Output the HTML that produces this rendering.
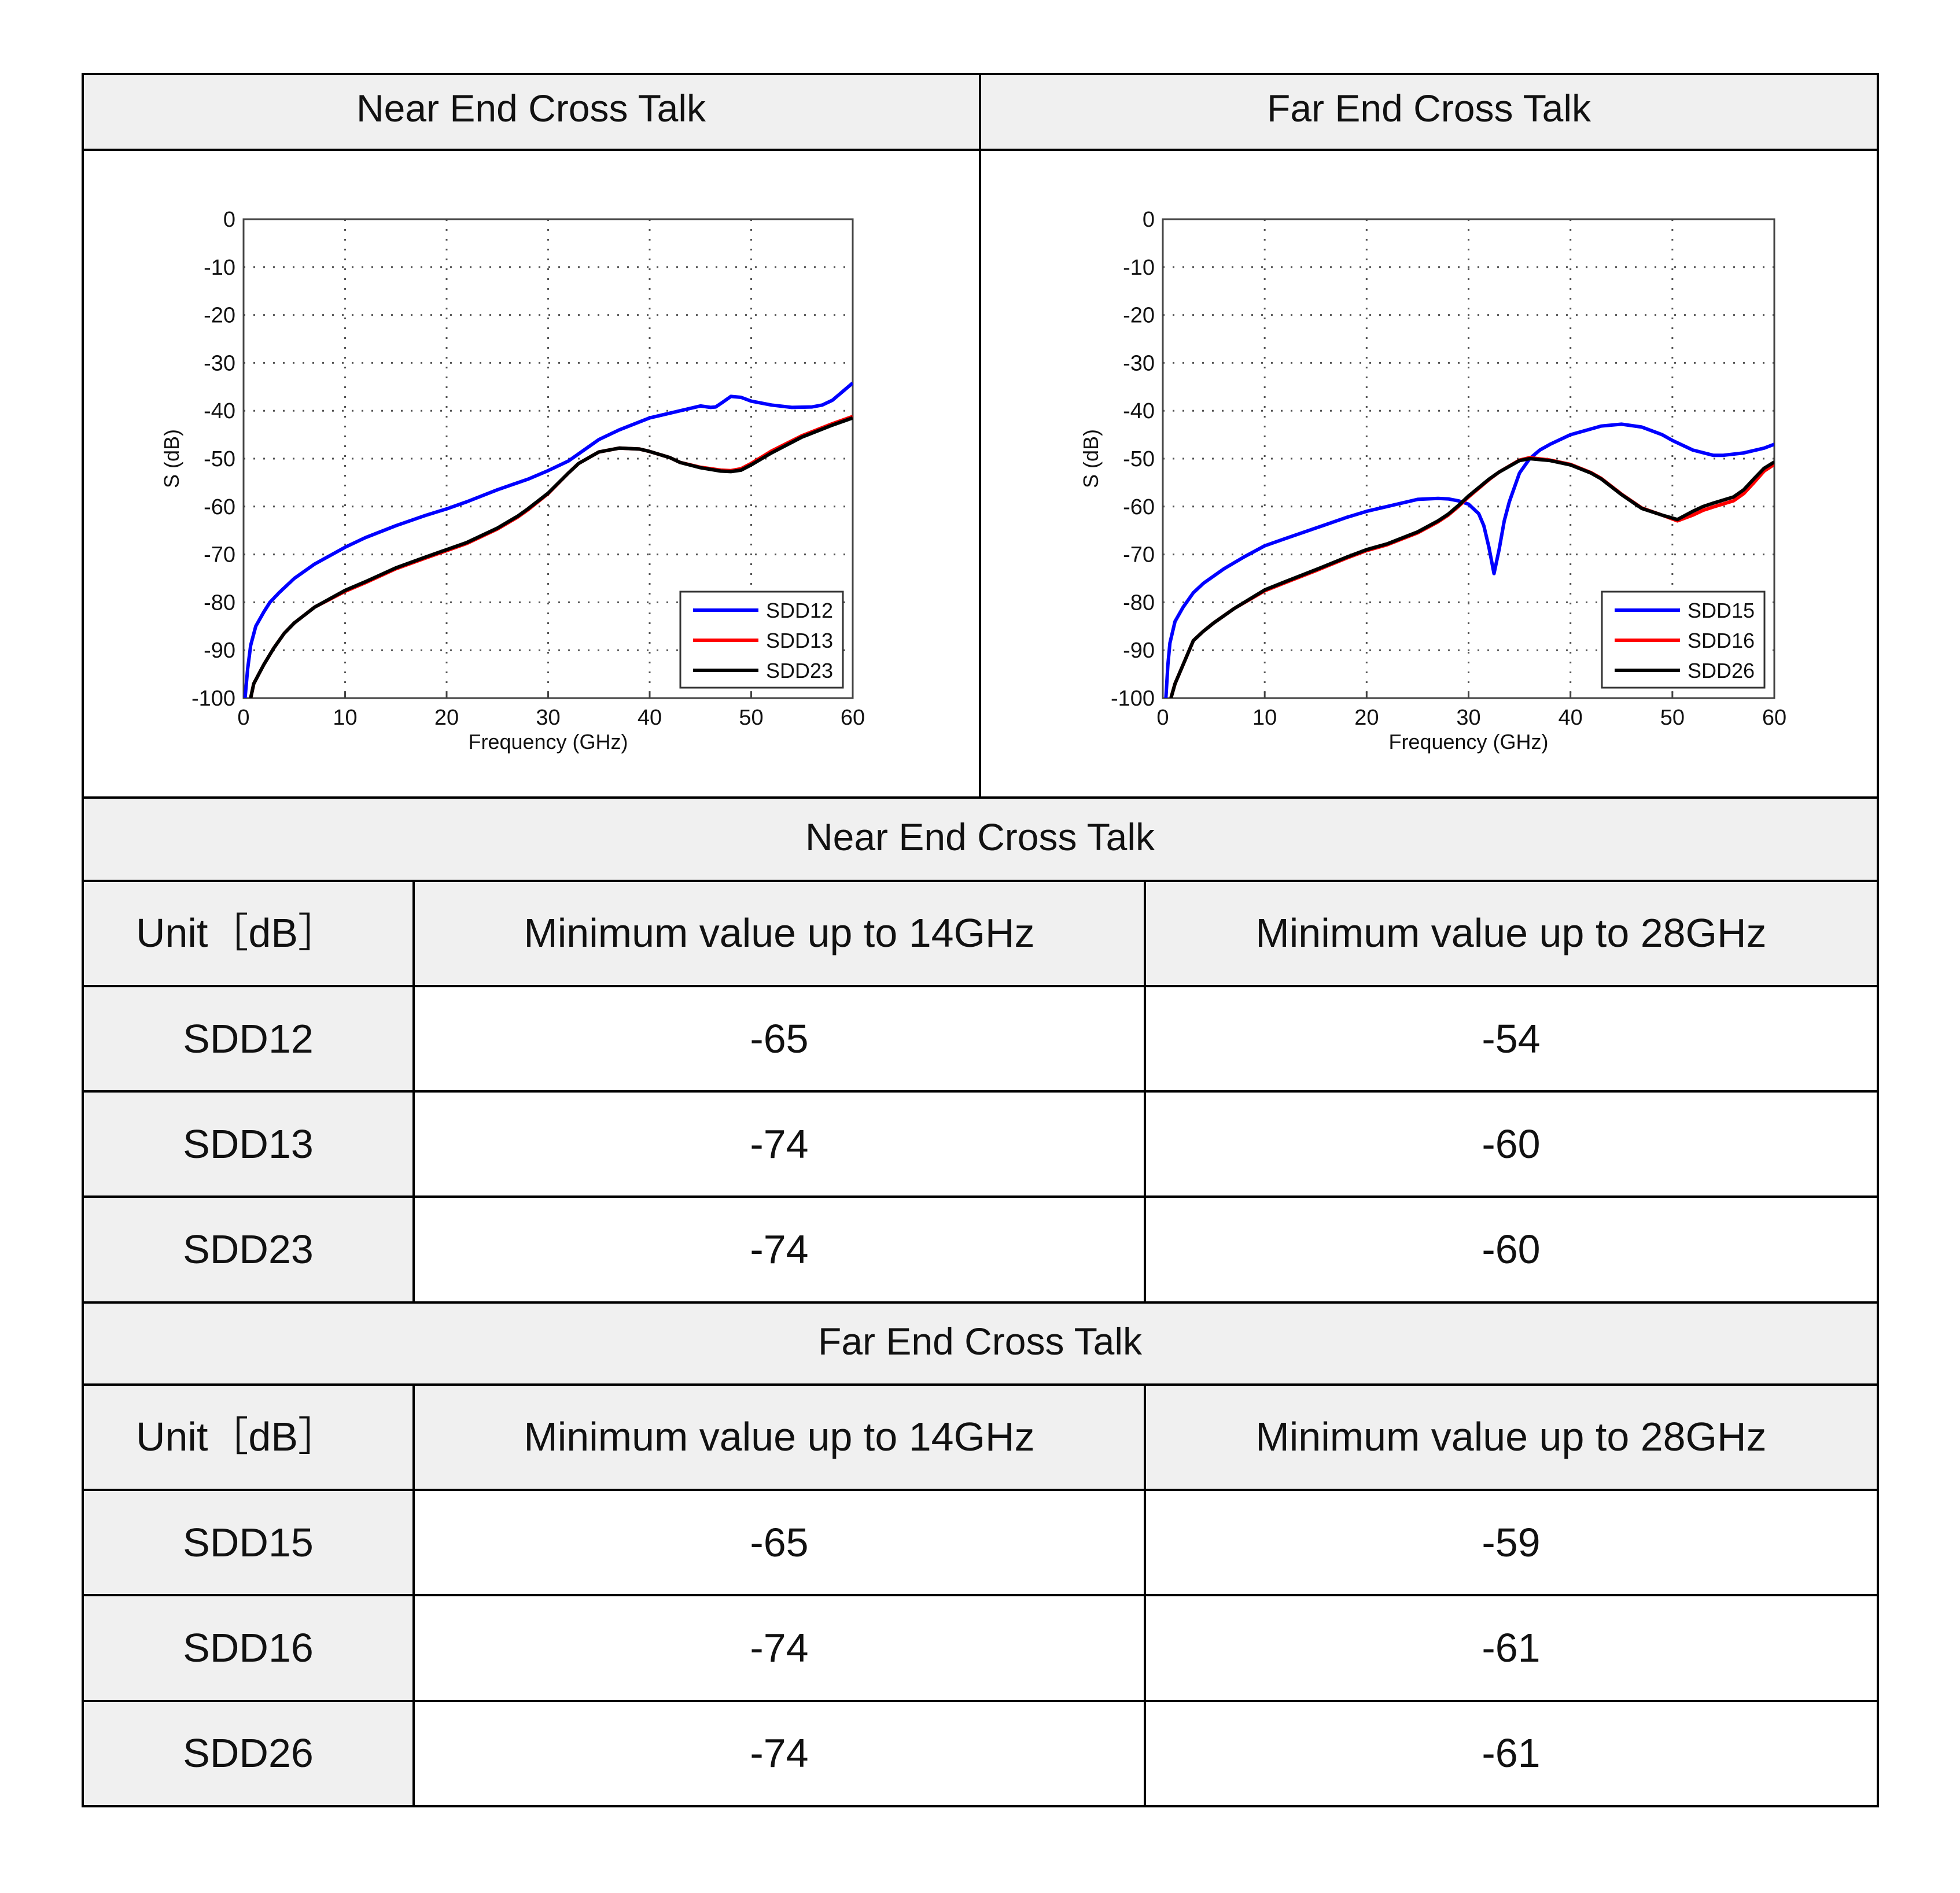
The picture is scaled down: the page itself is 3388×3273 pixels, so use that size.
<!DOCTYPE html>
<html><head><meta charset="utf-8"><style>
html,body{margin:0;padding:0;background:#fff}
svg{display:block}
text{font-family:"Liberation Sans",sans-serif;fill:#111}
</style></head><body>
<svg id="page" width="3388" height="3273" viewBox="0 0 3388 3273" xmlns="http://www.w3.org/2000/svg">
<g id="table">
  <rect x="143" y="128" width="3103" height="131" fill="#f0f0f0"/>
  <rect x="143" y="1379" width="3103" height="144" fill="#f0f0f0"/>
  <rect x="143" y="1523" width="3103" height="182" fill="#f0f0f0"/>
  <rect x="143" y="1705" width="572" height="547" fill="#f0f0f0"/>
  <rect x="143" y="2252" width="3103" height="142" fill="#f0f0f0"/>
  <rect x="143" y="2394" width="3103" height="182" fill="#f0f0f0"/>
  <rect x="143" y="2576" width="572" height="547" fill="#f0f0f0"/>
  <g stroke="#000" stroke-width="4" fill="none">
    <rect x="143" y="128" width="3103" height="2995"/>
    <line x1="143" y1="259" x2="3246" y2="259"/>
    <line x1="1694" y1="128" x2="1694" y2="1379"/>
    <line x1="143" y1="1379" x2="3246" y2="1379"/>
    <line x1="143" y1="1523" x2="3246" y2="1523"/>
    <line x1="143" y1="1705" x2="3246" y2="1705"/>
    <line x1="143" y1="1887" x2="3246" y2="1887"/>
    <line x1="143" y1="2069" x2="3246" y2="2069"/>
    <line x1="143" y1="2252" x2="3246" y2="2252"/>
    <line x1="143" y1="2394" x2="3246" y2="2394"/>
    <line x1="143" y1="2576" x2="3246" y2="2576"/>
    <line x1="143" y1="2758" x2="3246" y2="2758"/>
    <line x1="143" y1="2941" x2="3246" y2="2941"/>
    <line x1="715" y1="1523" x2="715" y2="2252"/>
    <line x1="1979" y1="1523" x2="1979" y2="2252"/>
    <line x1="715" y1="2394" x2="715" y2="3123"/>
    <line x1="1979" y1="2394" x2="1979" y2="3123"/>
  </g>
  <g font-size="66" text-anchor="middle">
    <text x="918" y="210">Near End Cross Talk</text>
    <text x="2470" y="210">Far End Cross Talk</text>
    <text x="1694" y="1470">Near End Cross Talk</text>
    <text x="1694" y="2342">Far End Cross Talk</text>
  </g>
  <g font-size="70" text-anchor="middle">
    <text x="410" y="1637">Unit［dB］</text>
    <text x="1347" y="1637">Minimum value up to 14GHz</text>
    <text x="2612" y="1637">Minimum value up to 28GHz</text>
    <text x="429" y="1820">SDD12</text>
    <text x="1347" y="1820">-65</text>
    <text x="2612" y="1820">-54</text>
    <text x="429" y="2002">SDD13</text>
    <text x="1347" y="2002">-74</text>
    <text x="2612" y="2002">-60</text>
    <text x="429" y="2184">SDD23</text>
    <text x="1347" y="2184">-74</text>
    <text x="2612" y="2184">-60</text>
    <text x="410" y="2508">Unit［dB］</text>
    <text x="1347" y="2508">Minimum value up to 14GHz</text>
    <text x="2612" y="2508">Minimum value up to 28GHz</text>
    <text x="429" y="2691">SDD15</text>
    <text x="1347" y="2691">-65</text>
    <text x="2612" y="2691">-59</text>
    <text x="429" y="2873">SDD16</text>
    <text x="1347" y="2873">-74</text>
    <text x="2612" y="2873">-61</text>
    <text x="429" y="3055">SDD26</text>
    <text x="1347" y="3055">-74</text>
    <text x="2612" y="3055">-61</text>
  </g>
</g>
<g id="chart1"></g>
<g id="chart2"></g>
</svg>
<script>
const xTicks = [0,10,20,30,40,50,60];
const yTicks = [0,-10,-20,-30,-40,-50,-60,-70,-80,-90,-100];
// Near end
const nearFreq12 = [0.15,0.4,0.7,1.2,2,2.6,3.5,5,7,10,12,15,18,20,22,25,28,30,32,33,35,37,40,42,44,45,46,46.5,47,48,49,50,52,54,56,57,58,59,60];
const nearSDD12 = [-100,-94,-89,-85,-82,-80,-78,-75,-72,-68.5,-66.5,-64,-61.8,-60.5,-59,-56.5,-54.3,-52.5,-50.5,-49,-46,-44,-41.5,-40.5,-39.5,-39,-39.3,-39.2,-38.5,-37,-37.2,-38,-38.8,-39.3,-39.2,-38.8,-37.8,-36,-34.2];
const nearFreq13 = [0.7,1,1.5,2,3,4,5,7,10,12,15,18,20,22,25,27,28,30,32,33,35,37,39,40,42,43,45,47,48,49,50,52,55,58,60];
const nearSDD23 = [-100,-97,-95,-93,-89.5,-86.5,-84.3,-81,-77.5,-75.7,-72.8,-70.5,-69,-67.5,-64.5,-62,-60.5,-57.2,-53,-51,-48.6,-47.8,-48,-48.5,-49.8,-50.8,-51.9,-52.6,-52.7,-52.4,-51.3,-48.8,-45.5,-43,-41.5];
const nearSDD13 = [-100,-97,-95,-93,-89.5,-86.5,-84.3,-81,-77.7,-75.9,-73,-70.7,-69.2,-67.7,-64.7,-62.2,-60.7,-57.3,-53,-51,-48.6,-47.8,-48,-48.5,-49.8,-50.8,-51.8,-52.4,-52.5,-52.1,-51,-48.4,-45.2,-42.7,-41.2];
// Far end
const farFreq15 = [0.3,0.5,0.7,1.2,2,3,4,6,8,10,12,15,18,20,22,25,27,28,29,30,31,31.5,32,32.5,33,33.5,34,35,36,37,38,40,43,45,47,49,50,52,54,55,57,59,60];
const farSDD15 = [-100,-93,-88.5,-84,-81,-78,-76,-73,-70.5,-68.2,-66.7,-64.5,-62.3,-61,-60,-58.5,-58.3,-58.4,-58.8,-59.5,-61.5,-64,-68.5,-74,-69,-63,-59,-53,-50,-48.2,-47,-45,-43.2,-42.8,-43.4,-45,-46.2,-48.2,-49.3,-49.3,-48.8,-47.8,-47];
const farFreq26 = [0.8,1.2,2,3,4,5,7,10,12,15,18,20,22,25,27,28,29,30,32,33,35,36,38,40,42,43,45,47,49,50.5,52,53,54,56,57,58,59,60];
const farSDD26 = [-100,-97,-93,-88,-86,-84.3,-81.3,-77.4,-75.7,-73.2,-70.6,-69,-67.8,-65.3,-63,-61.6,-59.8,-57.8,-54.3,-52.8,-50.4,-50,-50.4,-51.3,-53,-54.2,-57.5,-60.4,-61.8,-62.7,-61,-60,-59.3,-58,-56.5,-54.2,-52,-50.7];
const farSDD16 = [-100,-97,-93,-88,-86,-84.3,-81.3,-77.6,-75.9,-73.4,-70.8,-69.2,-68,-65.5,-63.2,-61.8,-60,-58,-54.4,-52.8,-50.3,-49.8,-50.3,-51.2,-52.9,-54.1,-57.4,-60.3,-61.8,-63,-61.8,-60.8,-60.1,-58.8,-57.3,-55,-52.6,-51.2];

const NS='http://www.w3.org/2000/svg';
function mk(tag, attrs, parent){const e=document.createElementNS(NS,tag);for(const k in attrs)e.setAttribute(k,attrs[k]);parent.appendChild(e);return e;}

function drawChart(g, L, R, T, B, series, names){
  const sx = v => L + (v-0)/(60-0)*(R-L);
  const sy = v => T + (0-v)/100*(B-T);
  const grid = mk('g',{},g);
  
  
  xTicks.forEach(t=>{
    if(t>0&&t<60){const l=mk('line',{x1:sx(t),x2:sx(t),y1:T,y2:B,stroke:'#555','stroke-width':3,'stroke-dasharray':'3 14'},grid);
      }
    const tl=mk('line',{x1:sx(t),x2:sx(t),y1:B,y2:B-10,stroke:'#444','stroke-width':3},grid);
    
    const tx=mk('text',{x:sx(t),y:B+46,'font-size':38,'text-anchor':'middle',fill:'#222'},g);
    
    tx.textContent=t;
  });
  yTicks.forEach(t=>{
    if(t<0&&t>-100){const l=mk('line',{x1:L,x2:R,y1:sy(t),y2:sy(t),stroke:'#555','stroke-width':3,'stroke-dasharray':'3 14'},grid);
      }
    const tx=mk('text',{x:L-14,y:sy(t)+13,'font-size':38,'text-anchor':'end',fill:'#222'},g);
    
    tx.textContent=t;
  });
  const ax=mk('rect',{x:L,y:T,width:R-L,height:B-T,fill:'none',stroke:'#444','stroke-width':3},g);
  
  const xl=mk('text',{x:(L+R)/2,y:B+88,'font-size':36,'text-anchor':'middle',fill:'#222'},g);
  
  xl.textContent='Frequency (GHz)';
  const yl=mk('text',{x:0,y:0,'font-size':36,'text-anchor':'middle',fill:'#222',transform:`translate(${L-112},${(T+B)/2}) rotate(-90)`},g);
  
  yl.textContent='S (dB)';
  const clip='clip'+L;
  const cp=mk('clipPath',{id:clip},g);mk('rect',{x:L,y:T,width:R-L,height:B-T},cp);
  series.forEach(s=>{
    const d=s.f.map((f,i)=>(i?'L':'M')+sx(f).toFixed(1)+','+sy(s.v[i]).toFixed(1)).join(' ');
    const p=mk('path',{d:d,fill:'none',stroke:s.c,'stroke-width':6,'stroke-linejoin':'round','clip-path':`url(#${clip})`},g);
    
  });
  const lx=R-298, ly=B-184;
  const lg=mk('g',{},g);
  
  
  mk('rect',{x:lx,y:ly,width:281,height:166,fill:'#fff',stroke:'#333','stroke-width':3},lg);
  names.forEach((n,i)=>{
    const yy=ly+32+i*52;
    mk('line',{x1:lx+22,x2:lx+135,y1:yy,y2:yy,stroke:n.c,'stroke-width':6},lg);
    const t=mk('text',{x:lx+148,y:yy+13,'font-size':36,fill:'#222'},lg);
    
    t.textContent=n.n;
  });
}
drawChart(document.getElementById('chart1'),421,1474,379,1207,
  [{f:nearFreq12,v:nearSDD12,c:'#0000ff',name:'sdd12'},{f:nearFreq13,v:nearSDD13,c:'#ff0000',name:'sdd13'},{f:nearFreq13,v:nearSDD23,c:'#000000',name:'sdd23'}],
  [{n:'SDD12',c:'#0000ff'},{n:'SDD13',c:'#ff0000'},{n:'SDD23',c:'#000000'}]);
drawChart(document.getElementById('chart2'),2010,3067,379,1207,
  [{f:farFreq15,v:farSDD15,c:'#0000ff',name:'sdd15'},{f:farFreq26,v:farSDD16,c:'#ff0000',name:'sdd16'},{f:farFreq26,v:farSDD26,c:'#000000',name:'sdd26'}],
  [{n:'SDD15',c:'#0000ff'},{n:'SDD16',c:'#ff0000'},{n:'SDD26',c:'#000000'}]);
</script>
</body></html>
